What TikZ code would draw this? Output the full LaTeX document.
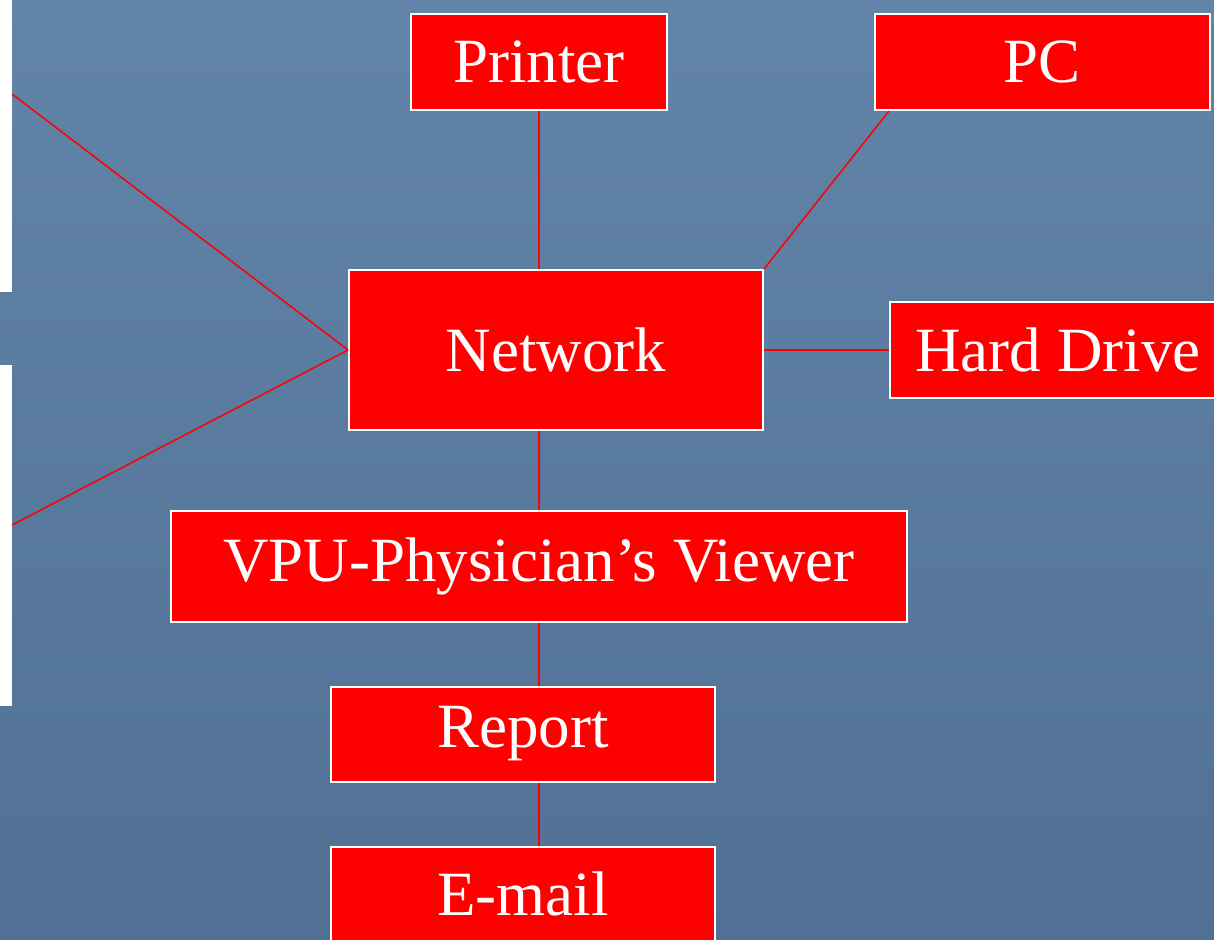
\documentclass[tikz,border=0pt]{standalone}
\usepackage{fontspec}
\setmainfont{Liberation Serif}
\usetikzlibrary{positioning}
\definecolor{slatetop}{RGB}{98,132,168}
\definecolor{slatebot}{RGB}{80,113,148}
\definecolor{boxred}{RGB}{255,0,0}

\begin{document}
\begin{tikzpicture}[x=1pt, y=-1pt,
    device/.style = {draw=white, line width=2pt, fill=boxred, text=white,
                     inner sep=0pt, font=\fontsize{63}{70}\selectfont},
    stub/.style   = {draw=none, fill=white, inner sep=0pt},
    link/.style   = {draw=boxred, line width=1.5pt}]
  \useasboundingbox (0,0) rectangle (1214,939);
  \clip (0,0) rectangle (1214,939);
  \shade[top color=slatetop, bottom color=slatebot] (0,0) rectangle (1214,939);

  % boxes cut off at the left edge
  \node[stub, minimum width=312pt, minimum height=392pt] (stubA) at (-144,96) {};
  \node[stub, minimum width=312pt, minimum height=341pt] (stubB) at (-144,535.5) {};
  \coordinate (inA) at (12,94);
  \coordinate (inB) at (12,525);

  % devices
  \node[device, minimum width=414pt, minimum height=160pt] (net)     at (556,350) {Network};
  \node[device, minimum width=256pt, minimum height=96pt]  (printer) at (539,62)  {Printer};
  \node[device, minimum width=335pt, minimum height=96pt]  (pc)      at (1042,62) {PC};
  \node[device, minimum width=336pt, minimum height=96pt]  (hd)      at (1058,350) {Hard Drive};
  \node[device, minimum width=736pt, minimum height=111pt] (vpu)     at (539,566) {VPU-Physician’s Viewer};
  \node[device, minimum width=384pt, minimum height=95pt]  (report)  at (523,734) {Report};
  \node[device, minimum width=384pt, minimum height=95pt]  (email)   at (523,894) {E-mail};

  % connections
  \draw[link] (inA) -- (net.west);
  \draw[link] (inB) -- (net.west);
  \draw[link] (printer.south) -- (printer.south |- net.north);
  \draw[link] ([xshift=-153pt]pc.south) -- (net.north east);
  \draw[link] (net.east) -- (hd.west);
  \draw[link] (vpu.north |- net.south) -- (vpu.north);
  \draw[link] (vpu.south) -- (vpu.south |- report.north);
  \draw[link] (vpu.south |- report.south) -- (vpu.south |- email.north);
\end{tikzpicture}
\end{document}
